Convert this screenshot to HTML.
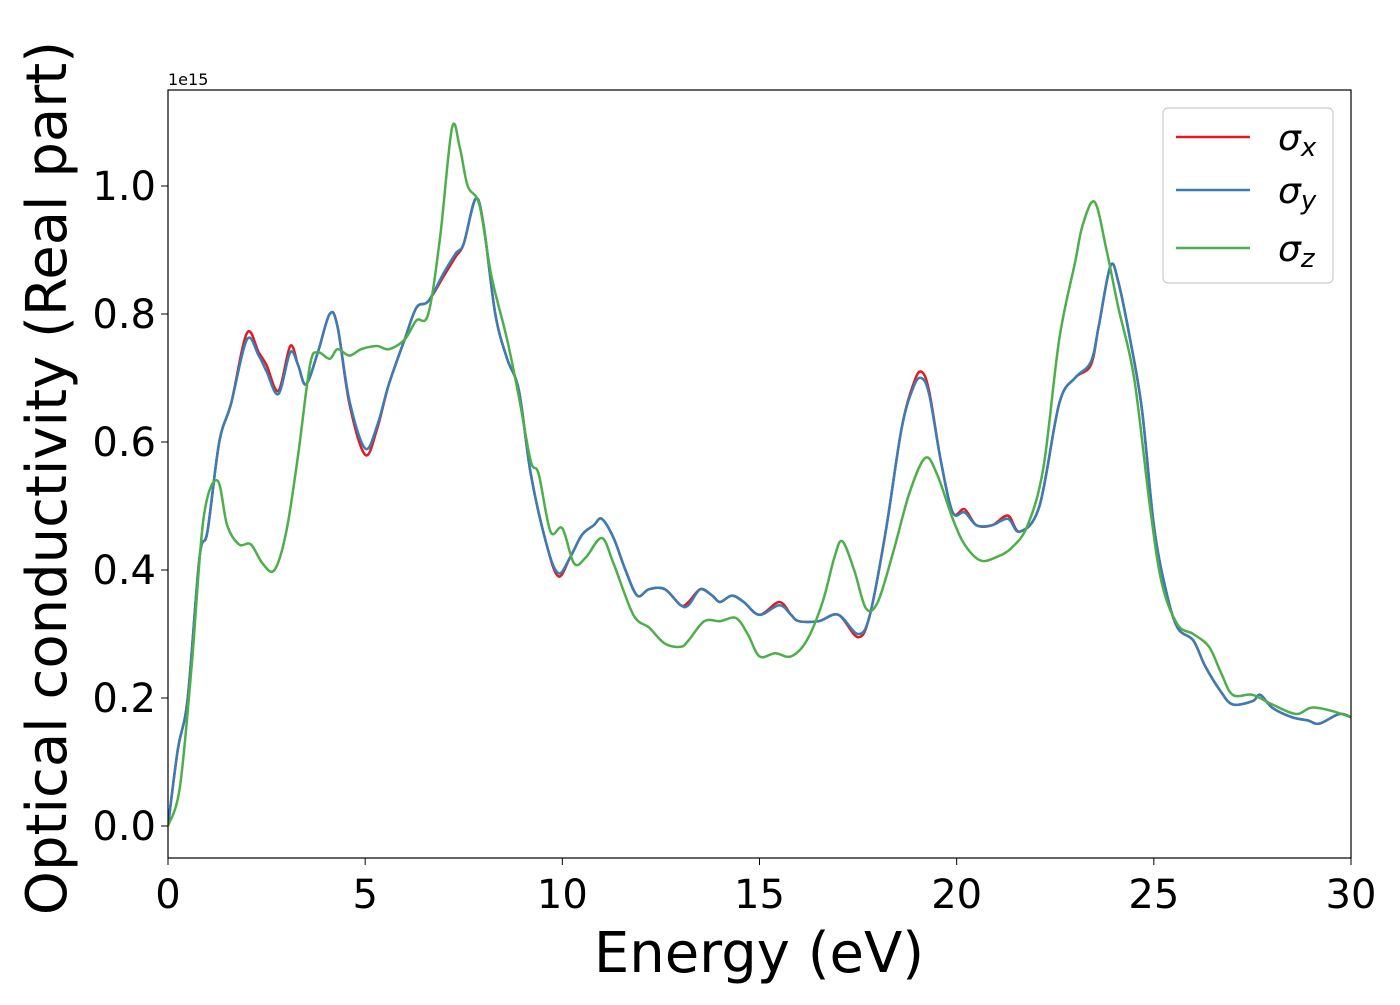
<!DOCTYPE html>
<html><head><meta charset="utf-8"><style>
body{margin:0;background:#fff}
svg text{font-family:"DejaVu Sans","Liberation Sans",sans-serif}
</style></head><body>
<svg id="chart" width="1400" height="1000" xmlns="http://www.w3.org/2000/svg">
<rect width="1400" height="1000" fill="#fff"/>
<g id="axes"></g>
<g id="lines"></g>
<rect x="168" y="90" width="1183" height="768" fill="none" stroke="#000" stroke-width="1.2"/>
<text x="168" y="85" font-size="16">1e15</text>
<text x="759" y="972" font-size="56" text-anchor="middle">Energy (eV)</text>
<text transform="translate(66,478) rotate(-90)" font-size="56" text-anchor="middle">Optical conductivity (Real part)</text>
<g>
<rect x="1163" y="108" width="170" height="175" rx="5" fill="#fff" stroke="#ccc" stroke-width="1.2"/>
<line x1="1176" y1="137" x2="1250" y2="137" stroke="#e41a1c" stroke-width="2.5"/>
<text x="1278" y="150" font-size="36" font-style="italic">σ<tspan font-size="26" dy="6">x</tspan></text>
<line x1="1176" y1="190" x2="1250" y2="190" stroke="#377eb8" stroke-width="2.5"/>
<text x="1278" y="203" font-size="36" font-style="italic">σ<tspan font-size="26" dy="6">y</tspan></text>
<line x1="1176" y1="248" x2="1250" y2="248" stroke="#4daf4a" stroke-width="2.5"/>
<text x="1278" y="261" font-size="36" font-style="italic">σ<tspan font-size="26" dy="6">z</tspan></text>
</g>
</svg>
<script>
const xTicks=[0,5,10,15,20,25,30];
const yTicks=[0.0,0.2,0.4,0.6,0.8,1.0];
const xTickLabels=["0","5","10","15","20","25","30"];
const yTickLabels=["0.0","0.2","0.4","0.6","0.8","1.0"];
const sxE=[0,0.25,0.5,0.8,1.0,1.3,1.6,2.0,2.3,2.5,2.8,3.1,3.3,3.5,3.8,4.1,4.3,4.6,5.0,5.3,5.6,6.0,6.3,6.6,7.0,7.3,7.5,7.8,8.0,8.3,8.6,8.9,9.2,9.6,9.9,10.2,10.5,10.8,11.0,11.3,11.6,11.9,12.2,12.6,13.0,13.2,13.5,13.8,14.0,14.3,14.6,15.0,15.5,15.8,16.0,16.5,17.0,17.5,17.8,18.2,18.6,18.9,19.1,19.3,19.6,19.9,20.2,20.5,20.9,21.3,21.6,22.1,22.6,23.0,23.4,23.6,23.9,24.1,24.4,24.7,25.0,25.3,25.6,26.0,26.3,26.7,27.0,27.5,27.7,28.0,28.5,28.9,29.2,29.7,30];
const sigmaX=[0,0.12,0.2,0.42,0.46,0.6,0.66,0.77,0.74,0.72,0.68,0.75,0.72,0.69,0.74,0.80,0.78,0.66,0.58,0.62,0.69,0.76,0.81,0.82,0.86,0.89,0.91,0.98,0.94,0.80,0.73,0.68,0.55,0.44,0.39,0.42,0.455,0.47,0.48,0.45,0.40,0.36,0.37,0.37,0.345,0.35,0.37,0.36,0.35,0.36,0.35,0.33,0.35,0.33,0.32,0.32,0.33,0.295,0.33,0.46,0.62,0.69,0.71,0.68,0.57,0.49,0.495,0.47,0.47,0.485,0.46,0.50,0.66,0.70,0.72,0.78,0.875,0.85,0.76,0.65,0.47,0.37,0.31,0.29,0.25,0.21,0.19,0.195,0.205,0.185,0.17,0.165,0.16,0.175,0.17];
const sigmaY=[0,0.12,0.2,0.42,0.46,0.6,0.66,0.76,0.735,0.71,0.675,0.74,0.72,0.69,0.74,0.80,0.78,0.665,0.59,0.625,0.69,0.76,0.81,0.82,0.865,0.895,0.91,0.98,0.94,0.80,0.73,0.68,0.55,0.44,0.395,0.42,0.455,0.47,0.48,0.45,0.40,0.36,0.37,0.37,0.345,0.345,0.37,0.36,0.35,0.36,0.35,0.33,0.345,0.33,0.32,0.32,0.33,0.30,0.33,0.46,0.62,0.685,0.70,0.675,0.57,0.49,0.49,0.47,0.47,0.48,0.46,0.50,0.66,0.70,0.725,0.78,0.875,0.85,0.76,0.65,0.47,0.37,0.31,0.29,0.25,0.21,0.19,0.195,0.205,0.185,0.17,0.165,0.16,0.175,0.17];
const szE=[0,0.3,0.6,0.9,1.25,1.5,1.8,2.1,2.4,2.7,3.0,3.3,3.6,3.8,4.1,4.3,4.6,4.9,5.3,5.6,6.0,6.3,6.6,6.9,7.2,7.4,7.6,7.9,8.2,8.6,8.9,9.2,9.4,9.7,10.0,10.3,10.6,11.0,11.3,11.8,12.2,12.6,13.0,13.2,13.6,14.0,14.4,14.7,15.0,15.4,15.8,16.2,16.6,16.9,17.1,17.4,17.7,18.0,18.4,18.8,19.2,19.5,19.9,20.2,20.6,21.0,21.4,21.8,22.2,22.6,23.0,23.2,23.5,23.8,24.1,24.5,24.9,25.2,25.6,26.0,26.4,26.7,27.0,27.5,28.0,28.6,29.0,29.5,30];
const sigmaZ=[0,0.06,0.25,0.48,0.54,0.47,0.44,0.44,0.41,0.40,0.46,0.58,0.72,0.74,0.73,0.745,0.735,0.745,0.75,0.745,0.76,0.79,0.80,0.92,1.09,1.06,1.00,0.97,0.86,0.76,0.67,0.57,0.55,0.46,0.465,0.41,0.42,0.45,0.41,0.33,0.31,0.285,0.28,0.29,0.32,0.32,0.325,0.30,0.265,0.27,0.265,0.29,0.35,0.42,0.445,0.40,0.34,0.35,0.43,0.52,0.575,0.55,0.48,0.44,0.415,0.42,0.435,0.47,0.56,0.76,0.88,0.94,0.975,0.90,0.81,0.70,0.50,0.38,0.315,0.30,0.28,0.24,0.205,0.205,0.19,0.175,0.185,0.18,0.17];
const X0=168,X1=1351,Y0=826,Y1=186;
function xs(v){return X0+(v/30)*(X1-X0);}
function ys(v){return Y0+(v/1.0)*(Y1-Y0);}
const NS="http://www.w3.org/2000/svg";
const axes=document.getElementById('axes'),lines=document.getElementById('lines');
xTicks.forEach((t,i)=>{
 const l=document.createElementNS(NS,'line');
 l.setAttribute('x1',xs(t));l.setAttribute('x2',xs(t));l.setAttribute('y1',858);l.setAttribute('y2',865);l.setAttribute('stroke','#000');
 
 
 axes.appendChild(l);
 const tx=document.createElementNS(NS,'text');
 tx.setAttribute('x',xs(t));tx.setAttribute('y',908);tx.setAttribute('font-size','40');tx.setAttribute('text-anchor','middle');
 tx.textContent=xTickLabels[i];
 
 
 axes.appendChild(tx);
});
yTicks.forEach((t,i)=>{
 const l=document.createElementNS(NS,'line');
 l.setAttribute('x1',161);l.setAttribute('x2',168);l.setAttribute('y1',ys(t));l.setAttribute('y2',ys(t));l.setAttribute('stroke','#000');
 
 
 axes.appendChild(l);
 const tx=document.createElementNS(NS,'text');
 tx.setAttribute('x',156);tx.setAttribute('y',ys(t)+14);tx.setAttribute('font-size','40');tx.setAttribute('text-anchor','end');
 tx.textContent=yTickLabels[i];
 
 
 axes.appendChild(tx);
});
function smoothPath(E,V){
 const p=E.map((e,i)=>[xs(e),ys(V[i])]);
 let d='M'+p[0][0]+','+p[0][1];
 for(let i=0;i<p.length-1;i++){
  const a=p[Math.max(i-1,0)],b=p[i],c=p[i+1],n=p[Math.min(i+2,p.length-1)];
  const c1=[b[0]+(c[0]-a[0])/6,b[1]+(c[1]-a[1])/6],c2=[c[0]-(n[0]-b[0])/6,c[1]-(n[1]-b[1])/6];
  d+=' C'+c1.join(',')+' '+c2.join(',')+' '+c.join(',');
 }
 return d;
}
[[sxE,sigmaX,'#e41a1c','series-sigma-x'],[sxE,sigmaY,'#377eb8','series-sigma-y'],[szE,sigmaZ,'#4daf4a','series-sigma-z']].forEach(s=>{
 const p=document.createElementNS(NS,'path');
 p.setAttribute('d',smoothPath(s[0],s[1]));p.setAttribute('fill','none');p.setAttribute('stroke',s[2]);p.setAttribute('stroke-width','2.5');
 p.setAttribute('clip-path','url(#clip)');
 
 
 lines.appendChild(p);
});
const defs=document.createElementNS(NS,'defs');
defs.innerHTML='<clipPath id="clip"><rect x="168" y="90" width="1183" height="768"/></clipPath>';
document.getElementById('chart').prepend(defs);
</script>
</body></html>
